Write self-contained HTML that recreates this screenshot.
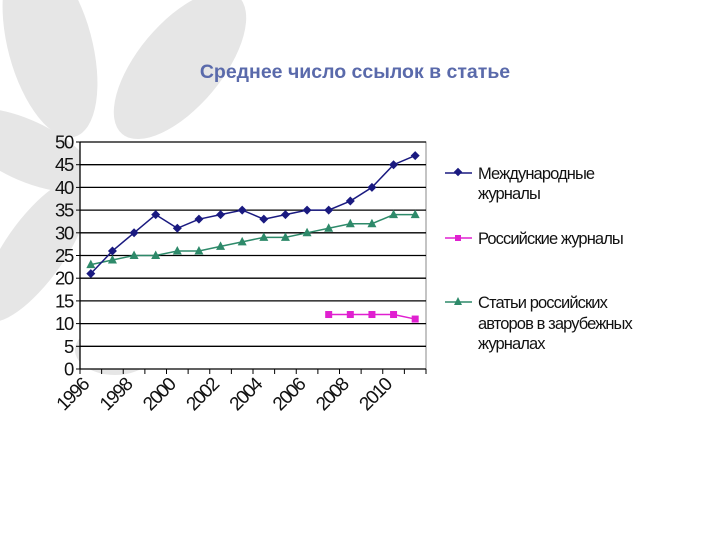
<!DOCTYPE html>
<html><head><meta charset="utf-8"><style>
body{margin:0;background:#fff;}
svg{display:block;font-family:"Liberation Sans","DejaVu Sans",sans-serif;}
</style></head><body>
<svg id="chart" width="720" height="540" viewBox="0 0 720 540">
<g fill="#e6e6e6">
<ellipse cx="50" cy="45" rx="42" ry="95" transform="rotate(-15 50 45)"/>
<ellipse cx="180" cy="65" rx="42" ry="90" transform="rotate(40 180 65)"/>
<ellipse cx="25" cy="150" rx="75" ry="30" transform="rotate(25 25 150)"/>
<ellipse cx="35" cy="250" rx="30" ry="85" transform="rotate(35 35 250)"/>
<ellipse cx="115" cy="350" rx="40" ry="25"/>
</g>
<text x="355" y="78" text-anchor="middle" font-size="19.5" font-weight="bold" fill="#5a6aab">Среднее число ссылок в статье</text>
<rect x="80" y="142" width="346" height="227" fill="#fff" stroke="#888" stroke-width="1"/>
<g id="grid"></g><g id="axes"></g><g id="series"></g>
<g font-size="16.5" fill="#111" letter-spacing="-0.9">
<g>
<line x1="445" y1="173" x2="472" y2="173" stroke="#1a1a80" stroke-width="1.5"/>
<rect x="455" y="169" width="6" height="6" fill="#1a1a80" transform="rotate(45 458 172)"/>
<text x="478" y="179">Международные</text><text x="478" y="199">журналы</text></g>
<g>
<line x1="445" y1="238" x2="472" y2="238" stroke="#e020d0" stroke-width="1.5"/>
<rect x="455" y="235" width="6" height="6" fill="#e020d0"/>
<text x="478" y="244">Российские журналы</text></g>
<g>
<line x1="445" y1="302" x2="472" y2="302" stroke="#2e8a6a" stroke-width="1.5"/>
<polygon points="458,297 462,305 454,305" fill="#2e8a6a"/>
<text x="478" y="308">Статьи российских</text><text x="478" y="329">авторов в зарубежных</text><text x="478" y="349">журналах</text></g>
</g>
</svg>
<script>
const categories=[1996,1997,1998,1999,2000,2001,2002,2003,2004,2005,2006,2007,2008,2009,2010,2011];
const intl=[21,26,30,34,31,33,34,35,33,34,35,35,37,40,45,47];
const russian=[null,null,null,null,null,null,null,null,null,null,null,12,12,12,12,11];
const abroad=[23,24,25,25,26,26,27,28,29,29,30,31,32,32,34,34];
const yTicks=[0,5,10,15,20,25,30,35,40,45,50];
const xLabels=[1996,1998,2000,2002,2004,2006,2008,2010];
const NS="http://www.w3.org/2000/svg";
const L=80,R=426,T=142,B=369,ymax=50;
const step=(R-L)/categories.length;
const xs=i=>L+step*(i+0.5);
const ys=v=>B-(v/ymax)*(B-T);
function mk(tag,attrs,parent){const e=document.createElementNS(NS,tag);for(const k in attrs)e.setAttribute(k,attrs[k]);parent.appendChild(e);return e;}
const grid=document.getElementById('grid'),axes=document.getElementById('axes'),ser=document.getElementById('series');
yTicks.forEach(v=>{
 if(v>0){const g=mk('line',{x1:L,x2:R,y1:ys(v),y2:ys(v),stroke:'#000','stroke-width':1.3},grid);
 
 }
 const t=mk('text',{x:L-7,y:ys(v)+6.5,'text-anchor':'end','font-size':18.5,fill:'#111','letter-spacing':'-1.3'},axes);
 t.textContent=v;
 
 
 mk('line',{x1:L-4,x2:L,y1:ys(v),y2:ys(v),stroke:'#000'},axes);
});
const ax=mk('line',{x1:L,x2:L,y1:T,y2:B,stroke:'#000','stroke-width':1.3},axes);


const bx=mk('line',{x1:L,x2:R,y1:B,y2:B,stroke:'#000','stroke-width':1.3},axes);


for(let i=0;i<=categories.length;i++)mk('line',{x1:L+step*i,x2:L+step*i,y1:B,y2:B+5,stroke:'#000'},axes);
xLabels.forEach(y=>{const i=categories.indexOf(y);const x=xs(i)-1,yy=B+17;
 const t=mk('text',{x:x,y:yy,'text-anchor':'end','font-size':19,fill:'#111','letter-spacing':'-1.5',transform:`rotate(-45 ${x} ${yy})`},axes);
 t.textContent=y;
 
 });
function series(data,color,shape,name){
 const g=mk('g',{},ser);
 
 
 const pts=[];data.forEach((v,i)=>{if(v!=null)pts.push([xs(i),ys(v)]);});
 mk('polyline',{points:pts.map(p=>p.join(',')).join(' '),fill:'none',stroke:color,'stroke-width':1.5},g);
 pts.forEach(([x,y])=>{let m;
  if(shape==='diamond')m=mk('polygon',{points:`${x},${y-4.5} ${x+4.5},${y} ${x},${y+4.5} ${x-4.5},${y}`,fill:color},g);
  else if(shape==='square')m=mk('rect',{x:x-3.5,y:y-3.5,width:7,height:7,fill:color},g);
  else m=mk('polygon',{points:`${x},${y-5} ${x+4.5},${y+3.5} ${x-4.5},${y+3.5}`,fill:color},g);
  
  });
}
series(abroad,'#2e8a6a','tri','series-russian-authors-abroad');
series(intl,'#1a1a80','diamond','series-international');
series(russian,'#e020d0','square','series-russian');
</script>
</body></html>
